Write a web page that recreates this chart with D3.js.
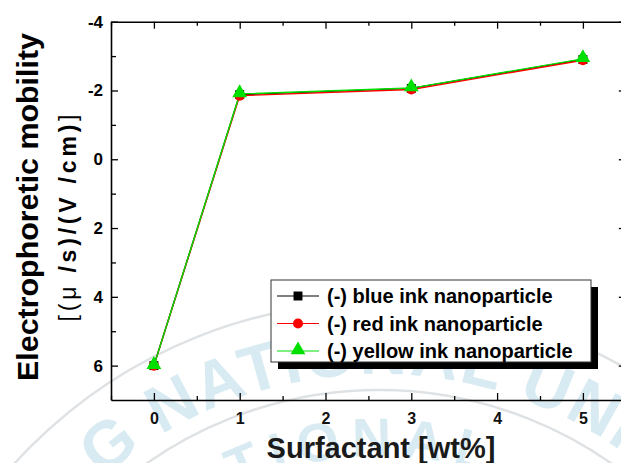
<!DOCTYPE html>
<html>
<head>
<meta charset="utf-8">
<script src="https://cdn.jsdelivr.net/npm/d3@7"></script>
<style>
  body { margin: 0; background: #fff; }
  svg { display: block; font-family: "Liberation Sans", Arial, sans-serif; }
</style>
</head>
<body>
<svg id="chart" width="621" height="463"></svg>
<script>
// data
const surfactant = [0, 1, 3, 5];
const blueInk = [6.0, -1.88, -2.06, -2.9];
const redInk = [6.0, -1.85, -2.03, -2.88];
const yellowInk = [6.0, -1.9, -2.07, -2.92];
const seriesNames = ["(-) blue ink nanoparticle", "(-) red ink nanoparticle", "(-) yellow ink nanoparticle"];
const seriesColors = ["#000000", "#ff0000", "#00e000"];
const seriesSymbols = [d3.symbolSquare, d3.symbolCircle, d3.symbolTriangle];
const xTicks = [0, 1, 2, 3, 4, 5];
const yTicks = [-4, -2, 0, 2, 4, 6];

const svg = d3.select("#chart");

// faint watermark behind everything
const wm = svg.append("g").attr("fill", "none");
const cx = 379, cy = 794;
[492, 404, 326].forEach(r => {
  wm.append("circle").attr("cx", cx).attr("cy", cy).attr("r", r)
    .attr("stroke", "#dfe2e4").attr("stroke-width", 2.5);
});
function arcPath(r, a0, a1) {
  const p0 = [cx + r * Math.sin(a0), cy - r * Math.cos(a0)];
  const p1 = [cx + r * Math.sin(a1), cy - r * Math.cos(a1)];
  return `M${p0[0]},${p0[1]} A${r},${r} 0 0 1 ${p1[0]},${p1[1]}`;
}
const defs = svg.append("defs");
defs.append("path").attr("id", "wmOuter").attr("d", arcPath(420, -0.72, 0.75));
defs.append("path").attr("id", "wmInner").attr("d", arcPath(338, -0.9, 0.5));
svg.append("text").attr("fill", "#d9ebf2").attr("font-size", 66).attr("font-weight", "bold")
  .append("textPath").attr("href", "#wmOuter").attr("startOffset", 0)
  .attr("textLength", 560).attr("lengthAdjust", "spacing")
  .text("G NATIONAL UNI");
svg.append("text").attr("fill", "#d9ebf2").attr("font-size", 54).attr("font-weight", "bold")
  .append("textPath").attr("href", "#wmInner").attr("startOffset", 60)
  .attr("textLength", 350).attr("lengthAdjust", "spacing")
  .text("NATIONAL");

const x = d3.scaleLinear().domain([-0.5, 5.5]).range([111, 625.8]);
const y = d3.scaleLinear().domain([-4, 7]).range([21.7, 400]);

const axisStroke = 1.6;

// bottom axis, ticks pointing in
const xMinor = d3.range(-0.5, 5.51, 0.5).filter(v => !xTicks.includes(v));
const bottom = svg.append("g").attr("transform", `translate(0,${y(7)})`)
  .call(d3.axisBottom(x).tickValues(xTicks).tickSize(-7).tickFormat(d3.format("d")).tickSizeOuter(0));
svg.append("g").attr("transform", `translate(0,${y(7)})`)
  .call(d3.axisBottom(x).tickValues(xMinor).tickSize(-4).tickFormat("").tickSizeOuter(0))
  .select(".domain").remove();
bottom.selectAll("text").attr("y", 13).attr("dy", "0.71em")
  .attr("font-size", 16).attr("font-weight", "bold").attr("fill", "#111")
  .attr("font-family", "Liberation Sans, Arial, sans-serif");

// top axis
svg.append("g").attr("transform", `translate(0,${y(-4)})`)
  .call(d3.axisTop(x).tickValues(xTicks).tickSize(-7).tickFormat("").tickSizeOuter(0));
svg.append("g").attr("transform", `translate(0,${y(-4)})`)
  .call(d3.axisTop(x).tickValues(xMinor).tickSize(-4).tickFormat("").tickSizeOuter(0))
  .select(".domain").remove();

// left axis
const yMinor = [-3, -1, 1, 3, 5];
const left = svg.append("g").attr("transform", `translate(${x(-0.5)},0)`)
  .call(d3.axisLeft(y).tickValues(yTicks).tickSize(-7).tickFormat(d3.format("d")).tickSizeOuter(0));
svg.append("g").attr("transform", `translate(${x(-0.5)},0)`)
  .call(d3.axisLeft(y).tickValues(yMinor).tickSize(-5).tickFormat("").tickSizeOuter(0))
  .select(".domain").remove();
left.selectAll("text").attr("x", -8)
  .attr("font-size", 17).attr("font-weight", "bold").attr("font-family", "Liberation Sans, Arial, sans-serif")
  .text(d => d < 0 ? "-" + Math.abs(d) : d);

// right axis (mostly off the picture)
svg.append("g").attr("transform", `translate(${x(5.5)},0)`)
  .call(d3.axisRight(y).tickValues(yTicks).tickSize(-7).tickFormat("").tickSizeOuter(0));

svg.selectAll(".domain").attr("stroke-width", axisStroke);
svg.selectAll(".tick line").attr("stroke-width", 1.3);

// series
const allSeries = [blueInk, redInk, yellowInk];
const line = d3.line().x(d => x(d[0])).y(d => y(d[1]));
allSeries.forEach((vals, i) => {
  const pts = surfactant.map((s, j) => [s, vals[j]]);
  svg.append("path").datum(pts).attr("d", line)
    .attr("fill", "none").attr("stroke", seriesColors[i]).attr("stroke-width", 1.4);
});
const symbolSizes = [80, 80, 95];
allSeries.forEach((vals, i) => {
  const sym = d3.symbol().type(seriesSymbols[i]).size(symbolSizes[i]);
  svg.append("g").selectAll("path").data(surfactant.map((s, j) => [s, vals[j]])).join("path")
    .attr("transform", d => `translate(${x(d[0])},${y(d[1]) + (i === 2 ? -1 : 0)})`)
    .attr("d", sym).attr("fill", seriesColors[i]);
});

// legend
const lg = svg.append("g").attr("transform", "translate(271,280)");
lg.append("rect").attr("x", 7).attr("y", 7).attr("width", 320).attr("height", 82).attr("fill", "#000");
lg.append("rect").attr("width", 320).attr("height", 82).attr("fill", "#fff")
  .attr("stroke", "#333").attr("stroke-width", 1);
seriesNames.forEach((name, i) => {
  const row = lg.append("g").attr("transform", `translate(0,${16 + i * 27.5})`);
  row.append("line").attr("x1", 6).attr("x2", 48).attr("stroke", seriesColors[i]).attr("stroke-width", 1.2);
  row.append("path").attr("transform", `translate(27,${i === 2 ? -1 : 0})`)
    .attr("d", d3.symbol().type(seriesSymbols[i]).size(symbolSizes[i])()).attr("fill", seriesColors[i]);
  row.append("text").attr("x", 56).attr("dy", "0.35em")
    .attr("font-size", 20).attr("font-weight", "bold").text(name);
});

// axis titles
svg.append("text").attr("transform", "translate(38,207) rotate(-90)")
  .attr("text-anchor", "middle").attr("font-size", 30).attr("font-weight", "bold")
  .attr("textLength", 348).attr("lengthAdjust", "spacingAndGlyphs")
  .text("Electrophoretic mobility");
const unit = svg.append("text").attr("transform", "translate(76,218) rotate(-90)")
  .attr("text-anchor", "middle").attr("font-size", 23)
  .attr("textLength", 207).attr("lengthAdjust", "spacing");
unit.append("tspan").attr("font-weight", "normal").text("[(μ ");
unit.append("tspan").attr("font-weight", "bold").text("/s)/(V /cm)");
unit.append("tspan").attr("font-weight", "normal").text("]");
svg.append("text").attr("x", 381).attr("y", 458)
  .attr("text-anchor", "middle").attr("font-size", 29).attr("font-weight", "bold")
  .attr("fill", "#1a1a1a")
  .text("Surfactant [wt%]");
</script>
</body>
</html>
